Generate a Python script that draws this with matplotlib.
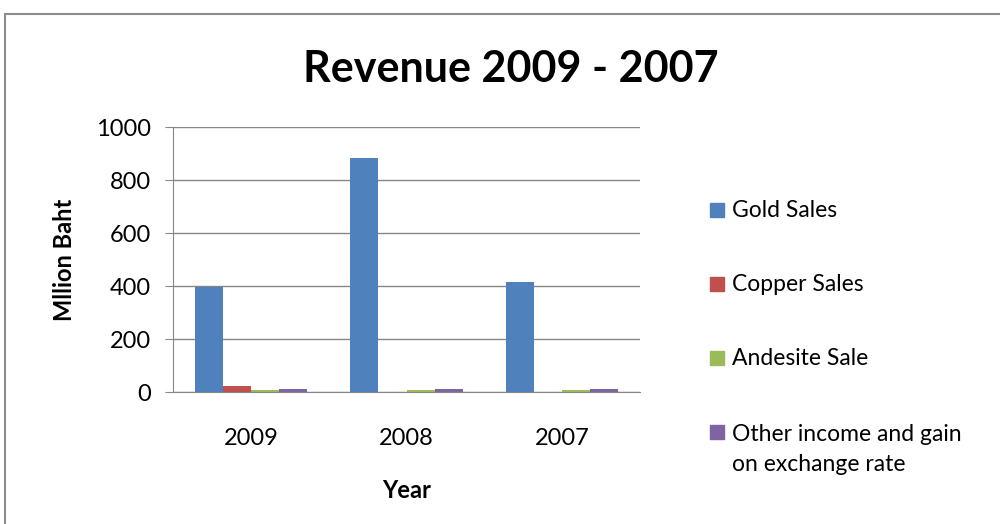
import matplotlib.pyplot as plt
import numpy as np
from matplotlib.patches import Rectangle

# revenue by product line, million baht
years = ['2009', '2008', '2007']
gold = [398, 883, 416]
copper = [21, 0, 0]
andesite = [7, 7, 6]
other = [11, 11, 11]

series_names = ['Gold Sales', 'Copper Sales', 'Andesite Sale',
                'Other income and gain\non exchange rate']
series_values = [gold, copper, andesite, other]
colors = ['#4F81BD', '#C0504D', '#9BBB59', '#8064A2']

plt.rcParams['font.family'] = ['Lato', 'DejaVu Sans']

W, H = 1000, 524
fig = plt.figure(figsize=(W / 100, H / 100), dpi=100)
fig.patch.set_facecolor('white')

# chart border, only top and left edges fall inside the canvas
fig.patches.append(Rectangle((0.005, -0.05), 1.1, 1.0242, transform=fig.transFigure,
                             fill=False, edgecolor='#8c8c8c', linewidth=1.5))

ax = fig.add_axes([0.173, 0.2519, 0.467, 0.5057])

x = np.arange(len(years))
width = 0.18
for i, (vals, c) in enumerate(zip(series_values, colors)):
    offs = (i - 1.5) * width
    ax.bar(x + offs, vals, width, color=c, zorder=3)

ax.set_xlim(-0.5, 2.5)
ax.set_ylim(0, 1000)
ax.set_yticks(np.arange(0, 1001, 200))
ax.set_xticks(x)
ax.set_xticklabels(years)
ax.yaxis.grid(True, color='#868686', linewidth=1)
ax.set_axisbelow(True)

for s in ['top', 'right']:
    ax.spines[s].set_visible(False)
ax.spines['left'].set_color('#868686')
ax.spines['bottom'].set_color('#868686')
ax.tick_params(axis='y', length=6, color='#868686', labelsize=17, pad=10)
ax.tick_params(axis='x', length=0, labelsize=17, pad=26)

ax.set_ylabel('Mllion Baht', fontsize=17, fontweight='bold', va='center')
ax.yaxis.set_label_coords(-0.233, 0.5)
ax.set_xlabel('Year', fontsize=17, fontweight='bold', va='center')
ax.xaxis.set_label_coords(0.5, -0.37)

fig.text(0.511, 1 - 82 / H, 'Revenue 2009 - 2007', fontsize=31,
         fontweight='bold', ha='center', va='baseline')

# legend: square key on the first line of each entry
line_gap = 32
for i, (name, c) in enumerate(zip(series_names, colors)):
    base = 216.7 + 74 * i
    fig.patches.append(Rectangle((710 / W, 1 - base / H), 14 / W, 14 / H,
                                 transform=fig.transFigure, color=c))
    # baseline alignment uses the last line of a multi-line label
    last = base + line_gap * name.count('\n')
    fig.text(732 / W, 1 - last / H, name, fontsize=16.5, ha='left',
             va='baseline', linespacing=1.54)

fig.savefig('out.png', dpi=100)
